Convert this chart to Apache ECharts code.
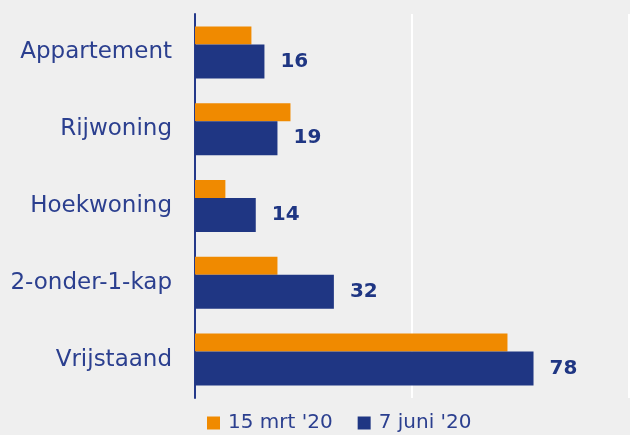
<!DOCTYPE html>
<html>
<head>
<meta charset="utf-8">
<script src="https://cdn.jsdelivr.net/npm/echarts@6/dist/echarts.min.js"></script>
<style>
html,body{margin:0;padding:0;background:#efefef;}
#c{width:630px;height:435px;}
</style>
</head>
<body>
<div id="c"></div>
<script>
const categories = ['Appartement', 'Rijwoning', 'Hoekwoning', '2-onder-1-kap', 'Vrijstaand'];
const seriesNames = ["15 mrt '20", "7 juni '20"];
const valuesMrt = [13, 22, 7, 19, 72];
const valuesJuni = [16, 19, 14, 32, 78];

const chart = echarts.init(document.getElementById('c'), null, {renderer: 'canvas'});
const textColor = '#2b3f8f';
chart.setOption({
  backgroundColor: '#efefef',
  animation: false,
  textStyle: {fontFamily: 'DejaVu Sans'},
  grid: {left: 195, right: 1, top: 14, bottom: 37, containLabel: false},
  legend: {
    data: seriesNames,
    left: 202,
    top: 408,
    icon: 'rect',
    itemWidth: 13,
    itemHeight: 13,
    itemGap: 25,
    textStyle: {color: textColor, fontSize: 20, fontFamily: 'DejaVu Sans', padding: [0, 0, 0, 3]}
  },
  xAxis: {
    type: 'value',
    min: 0,
    max: 100,
    interval: 50,
    axisLabel: {show: false},
    axisLine: {show: false},
    axisTick: {show: false},
    splitLine: {show: true, lineStyle: {color: '#ffffff', width: 2}}
  },
  yAxis: {
    type: 'category',
    inverse: true,
    data: categories,
    axisLine: {show: true, lineStyle: {color: '#24398a', width: 2}},
    axisTick: {show: false},
    axisLabel: {color: textColor, fontSize: 23, fontFamily: 'DejaVu Sans', margin: 23}
  },
  series: [
    {
      name: seriesNames[0],
      type: 'bar',
      data: valuesMrt,
      barWidth: 18,
      barGap: '0%',
      itemStyle: {color: '#f08a00'}
    },
    {
      name: seriesNames[1],
      type: 'bar',
      data: valuesJuni,
      barWidth: 34,
      barGap: '0%',
      itemStyle: {color: '#1f3683'},
      label: {
        show: true,
        position: 'right',
        distance: 16,
        color: '#1f3683',
        fontSize: 20,
        fontWeight: 'bold',
        fontFamily: 'DejaVu Sans'
      }
    }
  ]
});
</script>
</body>
</html>
